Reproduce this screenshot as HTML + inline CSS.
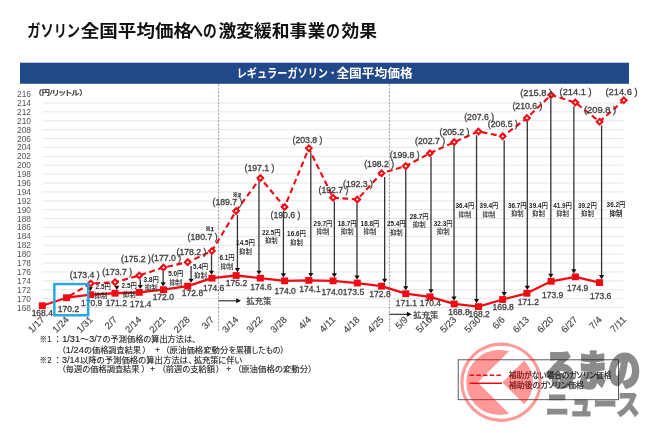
<!DOCTYPE html>
<html lang="ja"><head><meta charset="utf-8"><title>ガソリン全国平均価格への激変緩和事業の効果</title>
<style>html,body{margin:0;padding:0;background:#fff;}body{width:650px;height:433px;overflow:hidden;}svg{display:block;will-change:transform;}text{font-family:"Liberation Sans","Noto Sans CJK JP",sans-serif;}.v{font-size:8.9px;fill:#424242;stroke:#424242;stroke-width:0.32px;text-anchor:middle;}.s{font-size:7px;font-weight:bold;fill:#222;text-anchor:middle;}.k{font-weight:500;}.ya{font-size:8.6px;fill:#555;text-anchor:end;}.xa{font-size:9.5px;fill:#444;stroke:#444;stroke-width:0.15px;text-anchor:end;}.fn{font-size:8.2px;fill:#222;stroke:#222;stroke-width:0.12px;font-feature-settings:"palt";}.lg{font-size:8.2px;fill:#222;stroke:#222;stroke-width:0.2px;font-feature-settings:"palt";}.ti{font-size:16.8px;font-weight:bold;fill:#111;}.hd{font-size:12px;font-weight:bold;fill:#fff;}</style></head><body>
<svg width="650" height="433" viewBox="0 0 650 433">
<rect x="0" y="0" width="650" height="433" fill="#fff"/>
<text x="27.30" y="37.40" class="ti" textLength="52.70" lengthAdjust="spacingAndGlyphs">ガソリン</text>
<text x="80.80" y="37.40" class="ti" textLength="111.20" lengthAdjust="spacingAndGlyphs">全国平均価格</text>
<text x="189.20" y="37.40" class="ti" textLength="27.50" lengthAdjust="spacingAndGlyphs">への</text>
<text x="218.50" y="37.40" class="ti" textLength="106.70" lengthAdjust="spacingAndGlyphs">激変緩和事業</text>
<text x="326.00" y="37.40" class="ti" textLength="14.00" lengthAdjust="spacingAndGlyphs">の</text>
<text x="341.50" y="37.40" class="ti" textLength="35.50" lengthAdjust="spacingAndGlyphs">効果</text>
<rect x="20" y="62.7" width="609" height="21.1" fill="#21498a"/>
<text x="236.70" y="77.80" class="hd" textLength="91.30" lengthAdjust="spacingAndGlyphs">レギュラーガソリン</text>
<text x="329.40" y="77.80" class="hd" textLength="6.40" lengthAdjust="spacingAndGlyphs">･</text>
<text x="336.40" y="77.80" class="hd" textLength="76.30" lengthAdjust="spacingAndGlyphs">全国平均価格</text>
<line x1="42.5" x2="623.5" y1="307.50" y2="307.50" stroke="#e1e1e1" stroke-width="0.8"/>
<line x1="42.5" x2="623.5" y1="298.61" y2="298.61" stroke="#e1e1e1" stroke-width="0.8"/>
<line x1="42.5" x2="623.5" y1="289.72" y2="289.72" stroke="#e1e1e1" stroke-width="0.8"/>
<line x1="42.5" x2="623.5" y1="280.82" y2="280.82" stroke="#e1e1e1" stroke-width="0.8"/>
<line x1="42.5" x2="623.5" y1="271.93" y2="271.93" stroke="#e1e1e1" stroke-width="0.8"/>
<line x1="42.5" x2="623.5" y1="263.04" y2="263.04" stroke="#e1e1e1" stroke-width="0.8"/>
<line x1="42.5" x2="623.5" y1="254.15" y2="254.15" stroke="#e1e1e1" stroke-width="0.8"/>
<line x1="42.5" x2="623.5" y1="245.26" y2="245.26" stroke="#e1e1e1" stroke-width="0.8"/>
<line x1="42.5" x2="623.5" y1="236.36" y2="236.36" stroke="#e1e1e1" stroke-width="0.8"/>
<line x1="42.5" x2="623.5" y1="227.47" y2="227.47" stroke="#e1e1e1" stroke-width="0.8"/>
<line x1="42.5" x2="623.5" y1="218.58" y2="218.58" stroke="#e1e1e1" stroke-width="0.8"/>
<line x1="42.5" x2="623.5" y1="209.69" y2="209.69" stroke="#e1e1e1" stroke-width="0.8"/>
<line x1="42.5" x2="623.5" y1="200.80" y2="200.80" stroke="#e1e1e1" stroke-width="0.8"/>
<line x1="42.5" x2="623.5" y1="191.90" y2="191.90" stroke="#e1e1e1" stroke-width="0.8"/>
<line x1="42.5" x2="623.5" y1="183.01" y2="183.01" stroke="#e1e1e1" stroke-width="0.8"/>
<line x1="42.5" x2="623.5" y1="174.12" y2="174.12" stroke="#e1e1e1" stroke-width="0.8"/>
<line x1="42.5" x2="623.5" y1="165.23" y2="165.23" stroke="#e1e1e1" stroke-width="0.8"/>
<line x1="42.5" x2="623.5" y1="156.34" y2="156.34" stroke="#e1e1e1" stroke-width="0.8"/>
<line x1="42.5" x2="623.5" y1="147.44" y2="147.44" stroke="#e1e1e1" stroke-width="0.8"/>
<line x1="42.5" x2="623.5" y1="138.55" y2="138.55" stroke="#e1e1e1" stroke-width="0.8"/>
<line x1="42.5" x2="623.5" y1="129.66" y2="129.66" stroke="#e1e1e1" stroke-width="0.8"/>
<line x1="42.5" x2="623.5" y1="120.77" y2="120.77" stroke="#e1e1e1" stroke-width="0.8"/>
<line x1="42.5" x2="623.5" y1="111.88" y2="111.88" stroke="#e1e1e1" stroke-width="0.8"/>
<line x1="42.5" x2="623.5" y1="102.98" y2="102.98" stroke="#e1e1e1" stroke-width="0.8"/>
<text class="ya" x="31" y="310.50" textLength="14" lengthAdjust="spacingAndGlyphs">168</text>
<text class="ya" x="31" y="301.61" textLength="14" lengthAdjust="spacingAndGlyphs">170</text>
<text class="ya" x="31" y="292.72" textLength="14" lengthAdjust="spacingAndGlyphs">172</text>
<text class="ya" x="31" y="283.82" textLength="14" lengthAdjust="spacingAndGlyphs">174</text>
<text class="ya" x="31" y="274.93" textLength="14" lengthAdjust="spacingAndGlyphs">176</text>
<text class="ya" x="31" y="266.04" textLength="14" lengthAdjust="spacingAndGlyphs">178</text>
<text class="ya" x="31" y="257.15" textLength="14" lengthAdjust="spacingAndGlyphs">180</text>
<text class="ya" x="31" y="248.26" textLength="14" lengthAdjust="spacingAndGlyphs">182</text>
<text class="ya" x="31" y="239.36" textLength="14" lengthAdjust="spacingAndGlyphs">184</text>
<text class="ya" x="31" y="230.47" textLength="14" lengthAdjust="spacingAndGlyphs">186</text>
<text class="ya" x="31" y="221.58" textLength="14" lengthAdjust="spacingAndGlyphs">188</text>
<text class="ya" x="31" y="212.69" textLength="14" lengthAdjust="spacingAndGlyphs">190</text>
<text class="ya" x="31" y="203.80" textLength="14" lengthAdjust="spacingAndGlyphs">192</text>
<text class="ya" x="31" y="194.90" textLength="14" lengthAdjust="spacingAndGlyphs">194</text>
<text class="ya" x="31" y="186.01" textLength="14" lengthAdjust="spacingAndGlyphs">196</text>
<text class="ya" x="31" y="177.12" textLength="14" lengthAdjust="spacingAndGlyphs">198</text>
<text class="ya" x="31" y="168.23" textLength="14" lengthAdjust="spacingAndGlyphs">200</text>
<text class="ya" x="31" y="159.34" textLength="14" lengthAdjust="spacingAndGlyphs">202</text>
<text class="ya" x="31" y="150.44" textLength="14" lengthAdjust="spacingAndGlyphs">204</text>
<text class="ya" x="31" y="141.55" textLength="14" lengthAdjust="spacingAndGlyphs">206</text>
<text class="ya" x="31" y="132.66" textLength="14" lengthAdjust="spacingAndGlyphs">208</text>
<text class="ya" x="31" y="123.77" textLength="14" lengthAdjust="spacingAndGlyphs">210</text>
<text class="ya" x="31" y="114.88" textLength="14" lengthAdjust="spacingAndGlyphs">212</text>
<text class="ya" x="31" y="105.98" textLength="14" lengthAdjust="spacingAndGlyphs">214</text>
<text class="ya" x="31" y="97.09" textLength="14" lengthAdjust="spacingAndGlyphs">216</text>
<text x="37.6" y="95" font-size="7.2" font-weight="500" fill="#333" stroke="#333" stroke-width="0.2" textLength="46" lengthAdjust="spacingAndGlyphs" style='font-feature-settings:"palt"'>（円/リットル）</text>
<line x1="218.6" x2="218.6" y1="84" y2="331" stroke="#8a8a8a" stroke-width="0.8" stroke-dasharray="2.2 1.4"/>
<line x1="389.4" x2="389.4" y1="84" y2="331" stroke="#8a8a8a" stroke-width="0.8" stroke-dasharray="2.2 1.4"/>
<line x1="90.26" x2="90.26" y1="287.29" y2="289.31" stroke="#333" stroke-width="1.3"/>
<path d="M90.26 291.31 l-2.6 -4.2 h5.2 z" fill="#111"/>
<line x1="116.79" x2="116.79" y1="285.96" y2="287.97" stroke="#333" stroke-width="1.3"/>
<path d="M116.79 289.97 l-2.6 -4.2 h5.2 z" fill="#111"/>
<line x1="140.32" x2="140.32" y1="279.29" y2="287.08" stroke="#333" stroke-width="1.3"/>
<path d="M140.32 289.08 l-2.6 -4.2 h5.2 z" fill="#111"/>
<line x1="163.15" x2="163.15" y1="271.29" y2="284.42" stroke="#333" stroke-width="1.3"/>
<path d="M163.15 286.42 l-2.6 -4.2 h5.2 z" fill="#111"/>
<line x1="191.08" x2="191.08" y1="265.95" y2="280.86" stroke="#333" stroke-width="1.3"/>
<path d="M191.08 282.86 l-2.6 -4.2 h5.2 z" fill="#111"/>
<line x1="211.51" x2="211.51" y1="254.84" y2="272.86" stroke="#333" stroke-width="1.3"/>
<path d="M211.51 274.86 l-2.6 -4.2 h5.2 z" fill="#111"/>
<line x1="237.44" x2="237.44" y1="214.82" y2="270.19" stroke="#333" stroke-width="1.3"/>
<path d="M237.44 272.19 l-2.6 -4.2 h5.2 z" fill="#111"/>
<line x1="258.97" x2="258.97" y1="181.92" y2="272.86" stroke="#333" stroke-width="1.3"/>
<path d="M258.97 274.86 l-2.6 -4.2 h5.2 z" fill="#111"/>
<line x1="283.40" x2="283.40" y1="210.82" y2="275.52" stroke="#333" stroke-width="1.3"/>
<path d="M283.40 277.52 l-2.6 -4.2 h5.2 z" fill="#111"/>
<line x1="310.83" x2="310.83" y1="152.13" y2="275.08" stroke="#333" stroke-width="1.3"/>
<path d="M310.83 277.08 l-2.6 -4.2 h5.2 z" fill="#111"/>
<line x1="334.36" x2="334.36" y1="201.48" y2="275.52" stroke="#333" stroke-width="1.3"/>
<path d="M334.36 277.52 l-2.6 -4.2 h5.2 z" fill="#111"/>
<line x1="356.99" x2="356.99" y1="203.26" y2="277.75" stroke="#333" stroke-width="1.3"/>
<path d="M356.99 279.75 l-2.6 -4.2 h5.2 z" fill="#111"/>
<line x1="384.62" x2="384.62" y1="177.03" y2="280.86" stroke="#333" stroke-width="1.3"/>
<path d="M384.62 282.86 l-2.6 -4.2 h5.2 z" fill="#111"/>
<line x1="405.75" x2="405.75" y1="169.92" y2="288.42" stroke="#333" stroke-width="1.3"/>
<path d="M405.75 290.42 l-2.6 -4.2 h5.2 z" fill="#111"/>
<line x1="430.98" x2="430.98" y1="157.02" y2="291.53" stroke="#333" stroke-width="1.3"/>
<path d="M430.98 293.53 l-2.6 -4.2 h5.2 z" fill="#111"/>
<line x1="454.01" x2="454.01" y1="145.91" y2="298.64" stroke="#333" stroke-width="1.3"/>
<path d="M454.01 300.64 l-2.6 -4.2 h5.2 z" fill="#111"/>
<line x1="476.54" x2="476.54" y1="135.24" y2="301.31" stroke="#333" stroke-width="1.3"/>
<path d="M476.54 303.31 l-2.6 -4.2 h5.2 z" fill="#111"/>
<line x1="504.17" x2="504.17" y1="140.13" y2="294.20" stroke="#333" stroke-width="1.3"/>
<path d="M504.17 296.20 l-2.6 -4.2 h5.2 z" fill="#111"/>
<line x1="527.30" x2="527.30" y1="121.90" y2="287.97" stroke="#333" stroke-width="1.3"/>
<path d="M527.30 289.97 l-2.6 -4.2 h5.2 z" fill="#111"/>
<line x1="550.83" x2="550.83" y1="98.78" y2="275.97" stroke="#333" stroke-width="1.3"/>
<path d="M550.83 277.97 l-2.6 -4.2 h5.2 z" fill="#111"/>
<line x1="573.86" x2="573.86" y1="106.34" y2="271.52" stroke="#333" stroke-width="1.3"/>
<path d="M573.86 273.52 l-2.6 -4.2 h5.2 z" fill="#111"/>
<line x1="601.59" x2="601.59" y1="125.46" y2="277.30" stroke="#333" stroke-width="1.3"/>
<path d="M601.59 279.30 l-2.6 -4.2 h5.2 z" fill="#111"/>
<polyline fill="none" stroke="#f00a14" stroke-width="2.1" stroke-dasharray="5.8 3.6" stroke-dashoffset="-3.5" points="66.53,297.72 90.76,283.49 114.99,282.16 139.22,275.49 163.45,267.49 187.68,262.15 211.91,251.04 236.14,211.02 260.37,178.12 284.60,207.02 308.83,148.33 333.06,197.68 357.29,199.46 381.52,173.23 405.75,166.12 429.98,153.22 454.21,142.11 478.44,131.44 502.67,136.33 526.90,118.10 551.13,94.98 575.36,102.54 599.59,121.66 623.82,100.32"/>
<polyline fill="none" stroke="#f00a14" stroke-width="2.3" stroke-linejoin="round" points="42.30,305.72 66.53,297.72 90.76,294.61 114.99,293.27 139.22,292.38 163.45,289.72 187.68,286.16 211.91,278.16 236.14,275.49 260.37,278.16 284.60,280.82 308.83,280.38 333.06,280.82 357.29,283.05 381.52,286.16 405.75,293.72 429.98,296.83 454.21,303.94 478.44,306.61 502.67,299.50 526.90,293.27 551.13,281.27 575.36,276.82 599.59,282.60"/>
<rect x="38.80" y="302.32" width="7" height="6.8" fill="#f00a14"/>
<rect x="63.03" y="294.32" width="7" height="6.8" fill="#f00a14"/>
<rect x="87.26" y="291.21" width="7" height="6.8" fill="#f00a14"/>
<rect x="111.49" y="289.87" width="7" height="6.8" fill="#f00a14"/>
<rect x="135.72" y="288.98" width="7" height="6.8" fill="#f00a14"/>
<rect x="159.95" y="286.32" width="7" height="6.8" fill="#f00a14"/>
<rect x="184.18" y="282.76" width="7" height="6.8" fill="#f00a14"/>
<rect x="208.41" y="274.76" width="7" height="6.8" fill="#f00a14"/>
<rect x="232.64" y="272.09" width="7" height="6.8" fill="#f00a14"/>
<rect x="256.87" y="274.76" width="7" height="6.8" fill="#f00a14"/>
<rect x="281.10" y="277.42" width="7" height="6.8" fill="#f00a14"/>
<rect x="305.33" y="276.98" width="7" height="6.8" fill="#f00a14"/>
<rect x="329.56" y="277.42" width="7" height="6.8" fill="#f00a14"/>
<rect x="353.79" y="279.65" width="7" height="6.8" fill="#f00a14"/>
<rect x="378.02" y="282.76" width="7" height="6.8" fill="#f00a14"/>
<rect x="402.25" y="290.32" width="7" height="6.8" fill="#f00a14"/>
<rect x="426.48" y="293.43" width="7" height="6.8" fill="#f00a14"/>
<rect x="450.71" y="300.54" width="7" height="6.8" fill="#f00a14"/>
<rect x="474.94" y="303.21" width="7" height="6.8" fill="#f00a14"/>
<rect x="499.17" y="296.10" width="7" height="6.8" fill="#f00a14"/>
<rect x="523.40" y="289.87" width="7" height="6.8" fill="#f00a14"/>
<rect x="547.63" y="277.87" width="7" height="6.8" fill="#f00a14"/>
<rect x="571.86" y="273.42" width="7" height="6.8" fill="#f00a14"/>
<rect x="596.09" y="279.20" width="7" height="6.8" fill="#f00a14"/>
<path d="M90.76 280.69 l2.8 2.8 l-2.8 2.8 l-2.8 -2.8 z" fill="#fff" stroke="#f00a14" stroke-width="2.1"/>
<path d="M114.99 279.36 l2.8 2.8 l-2.8 2.8 l-2.8 -2.8 z" fill="#fff" stroke="#f00a14" stroke-width="2.1"/>
<path d="M139.22 272.69 l2.8 2.8 l-2.8 2.8 l-2.8 -2.8 z" fill="#fff" stroke="#f00a14" stroke-width="2.1"/>
<path d="M163.45 264.69 l2.8 2.8 l-2.8 2.8 l-2.8 -2.8 z" fill="#fff" stroke="#f00a14" stroke-width="2.1"/>
<path d="M187.68 259.35 l2.8 2.8 l-2.8 2.8 l-2.8 -2.8 z" fill="#fff" stroke="#f00a14" stroke-width="2.1"/>
<path d="M211.91 248.24 l2.8 2.8 l-2.8 2.8 l-2.8 -2.8 z" fill="#fff" stroke="#f00a14" stroke-width="2.1"/>
<path d="M236.14 208.22 l2.8 2.8 l-2.8 2.8 l-2.8 -2.8 z" fill="#fff" stroke="#f00a14" stroke-width="2.1"/>
<path d="M260.37 175.32 l2.8 2.8 l-2.8 2.8 l-2.8 -2.8 z" fill="#fff" stroke="#f00a14" stroke-width="2.1"/>
<path d="M284.60 204.22 l2.8 2.8 l-2.8 2.8 l-2.8 -2.8 z" fill="#fff" stroke="#f00a14" stroke-width="2.1"/>
<path d="M308.83 145.53 l2.8 2.8 l-2.8 2.8 l-2.8 -2.8 z" fill="#fff" stroke="#f00a14" stroke-width="2.1"/>
<path d="M333.06 194.88 l2.8 2.8 l-2.8 2.8 l-2.8 -2.8 z" fill="#fff" stroke="#f00a14" stroke-width="2.1"/>
<path d="M357.29 196.66 l2.8 2.8 l-2.8 2.8 l-2.8 -2.8 z" fill="#fff" stroke="#f00a14" stroke-width="2.1"/>
<path d="M381.52 170.43 l2.8 2.8 l-2.8 2.8 l-2.8 -2.8 z" fill="#fff" stroke="#f00a14" stroke-width="2.1"/>
<path d="M405.75 163.32 l2.8 2.8 l-2.8 2.8 l-2.8 -2.8 z" fill="#fff" stroke="#f00a14" stroke-width="2.1"/>
<path d="M429.98 150.42 l2.8 2.8 l-2.8 2.8 l-2.8 -2.8 z" fill="#fff" stroke="#f00a14" stroke-width="2.1"/>
<path d="M454.21 139.31 l2.8 2.8 l-2.8 2.8 l-2.8 -2.8 z" fill="#fff" stroke="#f00a14" stroke-width="2.1"/>
<path d="M478.44 128.64 l2.8 2.8 l-2.8 2.8 l-2.8 -2.8 z" fill="#fff" stroke="#f00a14" stroke-width="2.1"/>
<path d="M502.67 133.53 l2.8 2.8 l-2.8 2.8 l-2.8 -2.8 z" fill="#fff" stroke="#f00a14" stroke-width="2.1"/>
<path d="M526.90 115.30 l2.8 2.8 l-2.8 2.8 l-2.8 -2.8 z" fill="#fff" stroke="#f00a14" stroke-width="2.1"/>
<path d="M551.13 92.18 l2.8 2.8 l-2.8 2.8 l-2.8 -2.8 z" fill="#fff" stroke="#f00a14" stroke-width="2.1"/>
<path d="M575.36 99.74 l2.8 2.8 l-2.8 2.8 l-2.8 -2.8 z" fill="#fff" stroke="#f00a14" stroke-width="2.1"/>
<path d="M599.59 118.86 l2.8 2.8 l-2.8 2.8 l-2.8 -2.8 z" fill="#fff" stroke="#f00a14" stroke-width="2.1"/>
<path d="M623.82 97.52 l2.8 2.8 l-2.8 2.8 l-2.8 -2.8 z" fill="#fff" stroke="#f00a14" stroke-width="2.1"/>
<text class="v" x="84.75" y="277.80" textLength="30.0" lengthAdjust="spacingAndGlyphs">(173.4 )</text>
<text class="v" x="117.20" y="274.80" textLength="30.0" lengthAdjust="spacingAndGlyphs">(173.7 )</text>
<text class="v" x="136.00" y="261.70" textLength="30.0" lengthAdjust="spacingAndGlyphs">(175.2 )</text>
<text class="v" x="166.20" y="261.20" textLength="30.0" lengthAdjust="spacingAndGlyphs">(177.0 )</text>
<text class="v" x="191.50" y="254.60" textLength="30.0" lengthAdjust="spacingAndGlyphs">(178.2 )</text>
<text class="v" x="202.60" y="239.50" textLength="30.0" lengthAdjust="spacingAndGlyphs">(180.7 )</text>
<text class="v" x="227.50" y="205.10" textLength="30.0" lengthAdjust="spacingAndGlyphs">(189.7 )</text>
<text class="v" x="259.50" y="171.40" textLength="30.0" lengthAdjust="spacingAndGlyphs">(197.1 )</text>
<text class="v" x="285.50" y="217.90" textLength="30.0" lengthAdjust="spacingAndGlyphs">(190.6 )</text>
<text class="v" x="307.50" y="142.90" textLength="30.0" lengthAdjust="spacingAndGlyphs">(203.8 )</text>
<text class="v" x="333.50" y="192.90" textLength="30.0" lengthAdjust="spacingAndGlyphs">(192.7 )</text>
<text class="v" x="358.00" y="187.00" textLength="30.0" lengthAdjust="spacingAndGlyphs">(192.3 )</text>
<text class="v" x="379.20" y="167.40" textLength="30.0" lengthAdjust="spacingAndGlyphs">(198.2 )</text>
<text class="v" x="404.70" y="158.30" textLength="30.0" lengthAdjust="spacingAndGlyphs">(199.8 )</text>
<text class="v" x="430.10" y="143.50" textLength="30.0" lengthAdjust="spacingAndGlyphs">(202.7 )</text>
<text class="v" x="454.50" y="134.80" textLength="30.0" lengthAdjust="spacingAndGlyphs">(205.2 )</text>
<text class="v" x="479.20" y="120.30" textLength="30.0" lengthAdjust="spacingAndGlyphs">(207.6 )</text>
<text class="v" x="502.80" y="127.00" textLength="30.0" lengthAdjust="spacingAndGlyphs">(206.5 )</text>
<text class="v" x="527.40" y="109.30" textLength="30.0" lengthAdjust="spacingAndGlyphs">(210.6 )</text>
<text class="v" x="536.20" y="95.60" textLength="32.0" lengthAdjust="spacingAndGlyphs">(215.8 )</text>
<text class="v" x="575.60" y="94.70" textLength="32.0" lengthAdjust="spacingAndGlyphs">(214.1 )</text>
<text class="v" x="600.00" y="112.50" textLength="32.0" lengthAdjust="spacingAndGlyphs">(209.8 )</text>
<text class="v" x="621.50" y="94.70" textLength="32.0" lengthAdjust="spacingAndGlyphs">(214.6 )</text>
<text x="209.6" y="231.2" font-size="5.6" font-weight="bold" fill="#222" stroke="#222" stroke-width="0.25" text-anchor="middle">※1</text>
<text x="236.8" y="196.5" font-size="5.6" font-weight="bold" fill="#222" stroke="#222" stroke-width="0.25" text-anchor="middle">※2</text>
<text class="v" x="42.30" y="315.60" textLength="21.3" lengthAdjust="spacingAndGlyphs">168.4</text>
<text class="v" x="68.50" y="311.60" textLength="21.3" lengthAdjust="spacingAndGlyphs">170.2</text>
<text class="v" x="91.70" y="306.40" textLength="21.3" lengthAdjust="spacingAndGlyphs">170.9</text>
<text class="v" x="116.30" y="305.50" textLength="21.3" lengthAdjust="spacingAndGlyphs">171.2</text>
<text class="v" x="140.70" y="307.20" textLength="21.3" lengthAdjust="spacingAndGlyphs">171.4</text>
<text class="v" x="163.30" y="299.90" textLength="21.3" lengthAdjust="spacingAndGlyphs">172.0</text>
<text class="v" x="192.50" y="296.30" textLength="21.3" lengthAdjust="spacingAndGlyphs">172.8</text>
<text class="v" x="213.60" y="291.20" textLength="21.3" lengthAdjust="spacingAndGlyphs">174.6</text>
<text class="v" x="236.50" y="286.20" textLength="21.3" lengthAdjust="spacingAndGlyphs">175.2</text>
<text class="v" x="261.00" y="290.30" textLength="21.3" lengthAdjust="spacingAndGlyphs">174.6</text>
<text class="v" x="285.20" y="294.40" textLength="21.3" lengthAdjust="spacingAndGlyphs">174.0</text>
<text class="v" x="310.00" y="292.40" textLength="21.3" lengthAdjust="spacingAndGlyphs">174.1</text>
<text class="v" x="332.20" y="295.00" textLength="21.3" lengthAdjust="spacingAndGlyphs">174.0</text>
<text class="v" x="353.50" y="295.40" textLength="21.3" lengthAdjust="spacingAndGlyphs">173.5</text>
<text class="v" x="380.00" y="297.40" textLength="21.3" lengthAdjust="spacingAndGlyphs">172.8</text>
<text class="v" x="406.40" y="306.40" textLength="21.3" lengthAdjust="spacingAndGlyphs">171.1</text>
<text class="v" x="430.40" y="306.40" textLength="21.3" lengthAdjust="spacingAndGlyphs">170.4</text>
<text class="v" x="459.00" y="315.10" textLength="21.3" lengthAdjust="spacingAndGlyphs">168.8</text>
<text class="v" x="479.10" y="316.50" textLength="21.3" lengthAdjust="spacingAndGlyphs">168.2</text>
<text class="v" x="503.20" y="310.00" textLength="21.3" lengthAdjust="spacingAndGlyphs">169.8</text>
<text class="v" x="528.30" y="305.40" textLength="21.3" lengthAdjust="spacingAndGlyphs">171.2</text>
<text class="v" x="552.70" y="297.80" textLength="21.3" lengthAdjust="spacingAndGlyphs">173.9</text>
<text class="v" x="577.70" y="290.90" textLength="21.3" lengthAdjust="spacingAndGlyphs">174.9</text>
<text class="v" x="600.60" y="299.40" textLength="21.3" lengthAdjust="spacingAndGlyphs">173.6</text>
<text class="s" x="103.20" y="289.30" textLength="15.2" lengthAdjust="spacingAndGlyphs">2.5<tspan class="k">円</tspan></text>
<text class="s k" x="100.90" y="298.20" textLength="12.8" lengthAdjust="spacingAndGlyphs">抑制</text>
<text class="s" x="129.20" y="287.90" textLength="15.2" lengthAdjust="spacingAndGlyphs">2.5<tspan class="k">円</tspan></text>
<text class="s k" x="129.20" y="297.40" textLength="12.8" lengthAdjust="spacingAndGlyphs">抑制</text>
<text class="s" x="151.20" y="282.20" textLength="15.2" lengthAdjust="spacingAndGlyphs">3.8<tspan class="k">円</tspan></text>
<text class="s k" x="151.20" y="290.20" textLength="12.8" lengthAdjust="spacingAndGlyphs">抑制</text>
<text class="s" x="175.80" y="275.80" textLength="15.2" lengthAdjust="spacingAndGlyphs">5.0<tspan class="k">円</tspan></text>
<text class="s k" x="175.80" y="284.90" textLength="12.8" lengthAdjust="spacingAndGlyphs">抑制</text>
<text class="s" x="200.50" y="269.00" textLength="15.2" lengthAdjust="spacingAndGlyphs">5.4<tspan class="k">円</tspan></text>
<text class="s k" x="200.50" y="277.90" textLength="12.8" lengthAdjust="spacingAndGlyphs">抑制</text>
<text class="s" x="227.00" y="260.00" textLength="15.2" lengthAdjust="spacingAndGlyphs">6.1<tspan class="k">円</tspan></text>
<text class="s k" x="227.00" y="268.70" textLength="12.8" lengthAdjust="spacingAndGlyphs">抑制</text>
<text class="s" x="245.50" y="244.50" textLength="18.8" lengthAdjust="spacingAndGlyphs">14.5<tspan class="k">円</tspan></text>
<text class="s k" x="245.50" y="253.80" textLength="12.8" lengthAdjust="spacingAndGlyphs">抑制</text>
<text class="s" x="271.30" y="234.50" textLength="18.8" lengthAdjust="spacingAndGlyphs">22.5<tspan class="k">円</tspan></text>
<text class="s k" x="271.30" y="242.60" textLength="12.8" lengthAdjust="spacingAndGlyphs">抑制</text>
<text class="s" x="296.50" y="235.70" textLength="18.8" lengthAdjust="spacingAndGlyphs">16.6<tspan class="k">円</tspan></text>
<text class="s k" x="296.50" y="245.00" textLength="12.8" lengthAdjust="spacingAndGlyphs">抑制</text>
<text class="s" x="323.00" y="226.20" textLength="18.8" lengthAdjust="spacingAndGlyphs">29.7<tspan class="k">円</tspan></text>
<text class="s k" x="323.00" y="234.20" textLength="12.8" lengthAdjust="spacingAndGlyphs">抑制</text>
<text class="s" x="347.20" y="226.20" textLength="18.8" lengthAdjust="spacingAndGlyphs">18.7<tspan class="k">円</tspan></text>
<text class="s k" x="347.20" y="234.20" textLength="12.8" lengthAdjust="spacingAndGlyphs">抑制</text>
<text class="s" x="370.00" y="226.20" textLength="18.8" lengthAdjust="spacingAndGlyphs">18.8<tspan class="k">円</tspan></text>
<text class="s k" x="370.00" y="234.20" textLength="12.8" lengthAdjust="spacingAndGlyphs">抑制</text>
<text class="s" x="396.30" y="225.70" textLength="18.8" lengthAdjust="spacingAndGlyphs">25.4<tspan class="k">円</tspan></text>
<text class="s k" x="396.30" y="234.60" textLength="12.8" lengthAdjust="spacingAndGlyphs">抑制</text>
<text class="s" x="419.20" y="218.70" textLength="18.8" lengthAdjust="spacingAndGlyphs">28.7<tspan class="k">円</tspan></text>
<text class="s k" x="419.20" y="226.60" textLength="12.8" lengthAdjust="spacingAndGlyphs">抑制</text>
<text class="s" x="443.20" y="225.70" textLength="18.8" lengthAdjust="spacingAndGlyphs">32.3<tspan class="k">円</tspan></text>
<text class="s k" x="443.20" y="234.20" textLength="12.8" lengthAdjust="spacingAndGlyphs">抑制</text>
<text class="s" x="464.90" y="208.20" textLength="18.8" lengthAdjust="spacingAndGlyphs">36.4<tspan class="k">円</tspan></text>
<text class="s k" x="464.90" y="217.00" textLength="12.8" lengthAdjust="spacingAndGlyphs">抑制</text>
<text class="s" x="489.00" y="208.20" textLength="18.8" lengthAdjust="spacingAndGlyphs">39.4<tspan class="k">円</tspan></text>
<text class="s k" x="489.00" y="217.00" textLength="12.8" lengthAdjust="spacingAndGlyphs">抑制</text>
<text class="s" x="517.30" y="208.20" textLength="18.8" lengthAdjust="spacingAndGlyphs">36.7<tspan class="k">円</tspan></text>
<text class="s k" x="517.30" y="216.20" textLength="12.8" lengthAdjust="spacingAndGlyphs">抑制</text>
<text class="s" x="538.50" y="208.20" textLength="18.8" lengthAdjust="spacingAndGlyphs">39.4<tspan class="k">円</tspan></text>
<text class="s k" x="538.50" y="216.20" textLength="12.8" lengthAdjust="spacingAndGlyphs">抑制</text>
<text class="s" x="562.60" y="208.20" textLength="18.8" lengthAdjust="spacingAndGlyphs">41.9<tspan class="k">円</tspan></text>
<text class="s k" x="562.60" y="216.20" textLength="12.8" lengthAdjust="spacingAndGlyphs">抑制</text>
<text class="s" x="587.40" y="208.20" textLength="18.8" lengthAdjust="spacingAndGlyphs">39.2<tspan class="k">円</tspan></text>
<text class="s k" x="587.40" y="216.20" textLength="12.8" lengthAdjust="spacingAndGlyphs">抑制</text>
<text class="s" x="616.00" y="207.00" textLength="18.8" lengthAdjust="spacingAndGlyphs">36.2<tspan class="k">円</tspan></text>
<text class="s" x="616.00" y="215.60" textLength="12.8" lengthAdjust="spacingAndGlyphs">抑制</text>
<rect x="54.35" y="284.05" width="33.8" height="31.2" fill="none" stroke="#2aa9e0" stroke-width="2.5"/>
<line x1="218.7" x2="236.7" y1="300.8" y2="300.8" stroke="#222" stroke-width="1.1"/>
<path d="M241.0 300.8 l-4.8 -2.5 v5 z" fill="#111"/>
<text x="246.3" y="304.4" font-size="8.4" fill="#2a2a2a" stroke="#2a2a2a" stroke-width="0.12" textLength="25" lengthAdjust="spacingAndGlyphs">拡充策</text>
<line x1="389.4" x2="407.4" y1="314.3" y2="314.3" stroke="#222" stroke-width="1.1"/>
<path d="M411.7 314.3 l-4.8 -2.5 v5 z" fill="#111"/>
<text x="413.3" y="317.9" font-size="8.4" fill="#2a2a2a" stroke="#2a2a2a" stroke-width="0.12" textLength="25" lengthAdjust="spacingAndGlyphs">拡充策</text>
<text class="xa" transform="translate(42.80 318.00) rotate(-45)" x="0" y="3.3">1/17</text>
<text class="xa" transform="translate(67.03 318.00) rotate(-45)" x="0" y="3.3">1/24</text>
<text class="xa" transform="translate(91.26 318.00) rotate(-45)" x="0" y="3.3">1/31</text>
<text class="xa" transform="translate(115.49 318.00) rotate(-45)" x="0" y="3.3">2/7</text>
<text class="xa" transform="translate(139.72 318.00) rotate(-45)" x="0" y="3.3">2/14</text>
<text class="xa" transform="translate(163.95 318.00) rotate(-45)" x="0" y="3.3">2/21</text>
<text class="xa" transform="translate(188.18 318.00) rotate(-45)" x="0" y="3.3">2/28</text>
<text class="xa" transform="translate(212.41 318.00) rotate(-45)" x="0" y="3.3">3/7</text>
<text class="xa" transform="translate(236.64 318.00) rotate(-45)" x="0" y="3.3">3/14</text>
<text class="xa" transform="translate(260.87 318.00) rotate(-45)" x="0" y="3.3">3/22</text>
<text class="xa" transform="translate(285.10 318.00) rotate(-45)" x="0" y="3.3">3/28</text>
<text class="xa" transform="translate(309.33 318.00) rotate(-45)" x="0" y="3.3">4/4</text>
<text class="xa" transform="translate(333.56 318.00) rotate(-45)" x="0" y="3.3">4/11</text>
<text class="xa" transform="translate(357.79 318.00) rotate(-45)" x="0" y="3.3">4/18</text>
<text class="xa" transform="translate(382.02 318.00) rotate(-45)" x="0" y="3.3">4/25</text>
<text class="xa" transform="translate(406.25 318.00) rotate(-45)" x="0" y="3.3">5/9</text>
<text class="xa" transform="translate(430.48 318.00) rotate(-45)" x="0" y="3.3">5/16</text>
<text class="xa" transform="translate(454.71 318.00) rotate(-45)" x="0" y="3.3">5/23</text>
<text class="xa" transform="translate(478.94 318.00) rotate(-45)" x="0" y="3.3">5/30</text>
<text class="xa" transform="translate(503.17 318.00) rotate(-45)" x="0" y="3.3">6/6</text>
<text class="xa" transform="translate(527.40 318.00) rotate(-45)" x="0" y="3.3">6/13</text>
<text class="xa" transform="translate(551.63 318.00) rotate(-45)" x="0" y="3.3">6/20</text>
<text class="xa" transform="translate(575.86 318.00) rotate(-45)" x="0" y="3.3">6/27</text>
<text class="xa" transform="translate(600.09 318.00) rotate(-45)" x="0" y="3.3">7/4</text>
<text class="xa" transform="translate(624.32 318.00) rotate(-45)" x="0" y="3.3">7/11</text>
<text x="39.60" y="342.00" class="fn" textLength="11.80" lengthAdjust="spacingAndGlyphs">※1</text>
<text x="57.60" y="342.00" class="fn" text-anchor="middle">：</text>
<text x="62.20" y="342.00" class="fn" textLength="39.80" lengthAdjust="spacingAndGlyphs">1/31～3/7</text>
<text x="102.70" y="342.00" class="fn" textLength="93.60" lengthAdjust="spacingAndGlyphs">の予測価格の算出方法は、</text>
<text x="61.60" y="352.60" class="fn">（</text>
<text x="65.80" y="352.60" class="fn" textLength="18.20" lengthAdjust="spacingAndGlyphs">1/24</text>
<text x="84.20" y="352.60" class="fn" textLength="56.80" lengthAdjust="spacingAndGlyphs">の価格調査結果</text>
<text x="142.60" y="352.60" class="fn">）</text>
<text x="157.30" y="352.60" class="fn" text-anchor="middle">+</text>
<text x="165.40" y="352.60" class="fn">（</text>
<text x="169.60" y="352.60" class="fn" textLength="58.80" lengthAdjust="spacingAndGlyphs">原油価格変動分</text>
<text x="228.90" y="352.60" class="fn" textLength="51.50" lengthAdjust="spacingAndGlyphs">を累積したもの</text>
<text x="280.30" y="352.60" class="fn">）</text>
<text x="39.60" y="362.70" class="fn" textLength="11.80" lengthAdjust="spacingAndGlyphs">※2</text>
<text x="57.60" y="362.70" class="fn" text-anchor="middle">：</text>
<text x="62.00" y="362.70" class="fn" textLength="17.60" lengthAdjust="spacingAndGlyphs">3/14</text>
<text x="79.90" y="362.70" class="fn" textLength="108.10" lengthAdjust="spacingAndGlyphs">以降の予測価格の算出方法は</text>
<text x="188.60" y="362.70" class="fn">、</text>
<text x="193.90" y="362.70" class="fn" textLength="48.20" lengthAdjust="spacingAndGlyphs">拡充策に伴い</text>
<text x="61.60" y="371.80" class="fn">（</text>
<text x="65.80" y="371.80" class="fn" textLength="73.80" lengthAdjust="spacingAndGlyphs">毎週の価格調査結果</text>
<text x="141.60" y="371.80" class="fn">）</text>
<text x="152.70" y="371.80" class="fn" text-anchor="middle">+</text>
<text x="161.50" y="371.80" class="fn">（</text>
<text x="165.80" y="371.80" class="fn" textLength="49.20" lengthAdjust="spacingAndGlyphs">前週の支給額</text>
<text x="216.00" y="371.80" class="fn">）</text>
<text x="228.70" y="371.80" class="fn" text-anchor="middle">+</text>
<text x="237.30" y="371.80" class="fn">（</text>
<text x="241.20" y="371.80" class="fn" textLength="66.90" lengthAdjust="spacingAndGlyphs">原油価格の変動分</text>
<text x="308.40" y="371.80" class="fn">）</text>
<rect x="458.2" y="359.8" width="160.3" height="39.9" fill="#fff" stroke="#4a4a4a" stroke-width="0.9"/>
<line x1="469.6" x2="501" y1="375.3" y2="375.3" stroke="#f00a14" stroke-width="1.6" stroke-dasharray="4.5 2.2"/>
<line x1="469.6" x2="502" y1="383.3" y2="383.3" stroke="#f00a14" stroke-width="1.5"/>
<text x="508.70" y="377.90" class="lg" textLength="102.80" lengthAdjust="spacingAndGlyphs">補助がない場合のガソリン価格</text>
<text x="508.70" y="387.80" class="lg" textLength="75.30" lengthAdjust="spacingAndGlyphs">補助後のガソリン価格</text>
<g opacity="0.4">
<defs><clipPath id="disc"><ellipse cx="499.60" cy="382.40" rx="33.4" ry="32.5"/></clipPath></defs>
<ellipse cx="501" cy="382.25" rx="39.15" ry="38.1" fill="none" stroke="#ff0000" stroke-width="3.1"/>
<g clip-path="url(#disc)"><path d="M459.6 422.4 h80 v-80 h-80 z M477.8 382.4 L522.8 337.4 L547.3 337.4 L502.3 382.4 L547.3 427.4 L522.8 427.4 Z" fill="#ff0000" fill-rule="evenodd"/></g>
</g>
<g opacity="0.5" fill="#1a1a1a" stroke="#1a1a1a" stroke-width="1.9" stroke-linejoin="round" font-weight="900">
<text transform="translate(544.2 384.9) scale(1 1.28)" x="0" y="0" font-size="31.6" textLength="96.2" lengthAdjust="spacingAndGlyphs">るまの</text>
<text transform="translate(545.6 414.9) scale(1 1.21)" x="0" y="0" stroke-width="0.8" font-size="23.7" textLength="94.1" lengthAdjust="spacingAndGlyphs">ニュース</text>
</g>
</svg></body></html>
